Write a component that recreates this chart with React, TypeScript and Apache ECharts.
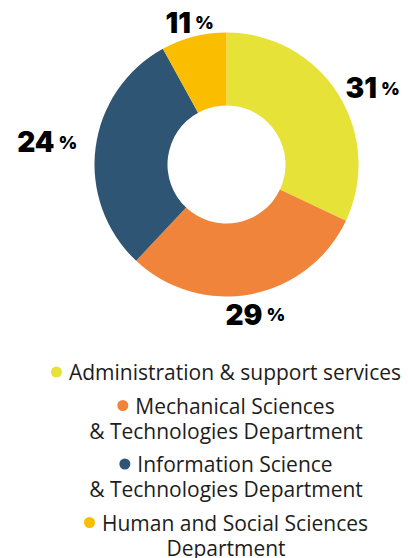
import React, { useEffect, useRef } from 'react';
import * as echarts from 'echarts';

const categories = [
  'Administration & support services',
  'Mechanical Sciences\n& Technologies Department',
  'Information Science\n& Technologies Department',
  'Human and Social Sciences\nDepartment',
];
const sliceValues = [32, 30, 30, 8];
const shownPercents = ['31', '29', '24', '11'];
const colors = ['#e6e237', '#f0843a', '#2e5573', '#fbbd00'];

const CX = 226.5;
const CY = 164.5;
const R0 = 59;
const R1 = 132;
const GAP = 6;
const LABEL_HALF_H = 10.5;
// small per-label nudges (pixels) to follow the reference's hand placement
const LABEL_NUDGE = [
  [5.5, 13],
  [0, -1],
  [-11.5, -1],
  [1.5, 7.5],
];
const LEGEND_FONT = '"Open Sans", "Noto Sans", sans-serif';
const LABEL_FONT = 'Inter, Lato, "Open Sans", sans-serif';

export default function App() {
  const ref = useRef<HTMLDivElement>(null);
  useEffect(() => {
    document.body.style.margin = '0';
    if (!ref.current) return;
    const chart = echarts.init(ref.current, null, { renderer: 'svg' });
    const total = sliceValues.reduce((a, b) => a + b, 0);
    const mids: number[] = [];
    let acc = 0;
    sliceValues.forEach((v) => {
      mids.push(((acc + v / 2) / total) * Math.PI * 2);
      acc += v;
    });

    const legendRich: any = {
      t: { fontSize: 21, fontFamily: LEGEND_FONT, color: '#1d1d1b', lineHeight: 25, align: 'center' },
      s: { width: 7, height: 10, align: 'center' },
    };
    colors.forEach((c, i) => {
      legendRich['d' + i] = { width: 11, height: 11, borderRadius: 5.5, backgroundColor: c, align: 'center' };
    });

    const option: any = {
      animation: false,
      legend: {
        orient: 'vertical',
        left: 41,
        top: 359.5,
        height: 240,
        padding: 0,
        itemGap: 8.5,
        itemWidth: 0,
        itemHeight: 0,
        icon: 'circle',
        selectedMode: false,
        data: categories,
        formatter: (name: string) => {
          const i = categories.indexOf(name);
          return name
            .split('\n')
            .map((l, k) => (k === 0 ? `{d${i}|}{s|}{t|${l}}` : `{t|${l}}`))
            .join('\n');
        },
        textStyle: {
          width: 360,
          overflow: 'none',
          fontSize: 21,
          fontFamily: LEGEND_FONT,
          color: '#1d1d1b',
          lineHeight: 25,
          rich: legendRich,
        },
      },
      series: [
        {
          type: 'pie',
          center: [CX, CY],
          radius: [R0, R1],
          startAngle: 90,
          clockwise: true,
          avoidLabelOverlap: false,
          silent: true,
          emphasis: { disabled: true },
          label: {
            show: true,
            position: 'outside',
            formatter: (p: any) => `{n|${shownPercents[p.dataIndex]}}{p|%}`,
            rich: {
              n: { fontSize: 28, fontWeight: 900, fontFamily: LABEL_FONT, color: '#000', lineHeight: 22 },
              p: { fontSize: 18, fontWeight: 900, fontFamily: LABEL_FONT, color: '#000', padding: [0, 0, 0, 4], lineHeight: 22 },
            },
          },
          labelLine: { show: false },
          labelLayout: (params: any) => {
            const i = params.dataIndex;
            const a = mids[i];
            const dx = Math.sin(a);
            const dy = -Math.cos(a);
            const r = params.labelRect;
            const dist = R1 + GAP + (r.width / 2) * Math.abs(dx) + LABEL_HALF_H * Math.abs(dy);
            return {
              x: CX + dx * dist + LABEL_NUDGE[i][0],
              y: CY + dy * dist + LABEL_NUDGE[i][1],
              align: 'center',
              verticalAlign: 'middle',
            };
          },
          data: categories.map((name, i) => ({
            name,
            value: sliceValues[i],
            itemStyle: { color: colors[i] },
          })),
        },
      ],
    };
    chart.setOption(option);
    return () => chart.dispose();
  }, []);
  return <div ref={ref} style={{ width: 408, height: 558 }} />;
}
